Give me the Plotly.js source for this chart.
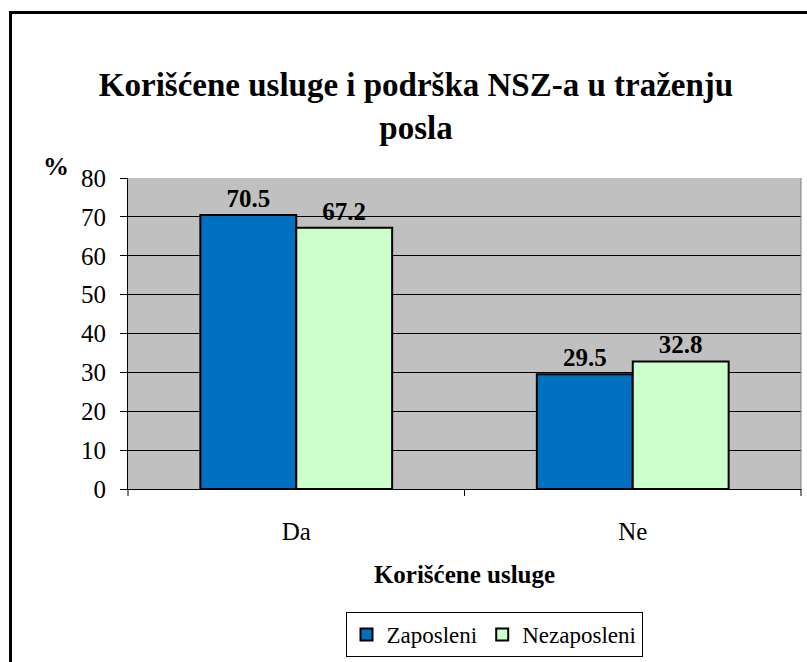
<!DOCTYPE html>
<html>
<head>
<meta charset="utf-8">
<script src="https://cdn.plot.ly/plotly-3.0.1.min.js"></script>
<style>
html,body{margin:0;padding:0;background:#fff;overflow:hidden;}
#wrap{position:relative;width:807px;height:662px;}
#chart{width:807px;height:662px;}
#frame{position:absolute;left:9px;top:11px;width:820px;height:700px;border-left:3px solid #000;border-top:3px solid #000;pointer-events:none;}
</style>
</head>
<body>
<div id="wrap"><div id="chart"></div><div id="frame"></div></div>
<script>
var categories = ["Da", "Ne"];
var zaposleni = [70.5, 29.5];
var nezaposleni = [67.2, 32.8];
var seriesNames = ["Zaposleni", "Nezaposleni"];
var titleText = "Korišćene usluge i podrška NSZ-a u traženju<br>posla";
var xTitle = "Korišćene usluge";
var yTitle = "%";

var font = "Liberation Serif";
var W = 807, H = 662, L = 128, R = 6, T = 178, B = 172;
var pw = W - L - R, ph = H - T - B;
function px(x){ return (x - L) / pw; }
function py(y){ return (H - B - y) / ph; }

var traces = [
  {type:'bar', name:seriesNames[0], x:categories, y:zaposleni,
   marker:{color:'#0070C0', line:{color:'#000', width:2}},
   text:zaposleni.map(function(v){return v.toFixed(1);}), textposition:'outside',
   textfont:{family:font, size:25, color:'#000', weight:'bold'}, cliponaxis:false},
  {type:'bar', name:seriesNames[1], x:categories, y:nezaposleni,
   marker:{color:'#CCFFCC', line:{color:'#000', width:2}},
   text:nezaposleni.map(function(v){return v.toFixed(1);}), textposition:'outside',
   textfont:{family:font, size:25, color:'#000', weight:'bold'}, cliponaxis:false}
];

var layout = {
  width:W, height:H,
  margin:{l:L, r:R, t:T, b:B, pad:0},
  paper_bgcolor:'#fff', plot_bgcolor:'#C0C0C0',
  font:{family:font, color:'#000', size:24},
  barmode:'group', bargap:0.43, bargroupgap:0,
  title:{text:titleText, x:px(416), xref:'paper', xanchor:'center', y:0.855, yanchor:'top',
         font:{family:font, size:33, color:'#000', weight:'bold'}},
  xaxis:{type:'category', showgrid:false, showline:true, linecolor:'#000', linewidth:1,
         ticks:'', tickfont:{family:font, size:25}, ticklabelstandoff:20,
         title:{text:xTitle, font:{family:font, size:25, weight:'bold'}, standoff:21},
         mirror:false},
  yaxis:{range:[0,80], dtick:10, showgrid:true, gridcolor:'#000', gridwidth:1,
         showline:true, linecolor:'#000', linewidth:1, ticks:'outside', ticklen:7,
         tickcolor:'#000', tickfont:{family:font, size:25}, zeroline:false, ticklabelstandoff:9},
  showlegend:true,
  legend:{orientation:'h', x:px(494), xanchor:'center', y:py(612), yanchor:'top',
          bordercolor:'#000', borderwidth:1, bgcolor:'#fff',
          font:{family:font, size:23}, traceorder:'normal', itemwidth:30},
  shapes:[
    {type:'line', xref:'paper', yref:'paper', x0:1, x1:1, y0:0, y1:1, line:{color:'#808080', width:1}},
    {type:'line', xref:'paper', yref:'paper', x0:0, x1:0, y0:0, y1:py(497), line:{color:'#000', width:1}},
    {type:'line', xref:'paper', yref:'paper', x0:0.5, x1:0.5, y0:0, y1:py(497), line:{color:'#000', width:1}},
    {type:'line', xref:'paper', yref:'paper', x0:1, x1:1, y0:0, y1:py(497), line:{color:'#000', width:1}}
  ],
  annotations:[
    {text:yTitle, xref:'paper', yref:'paper', x:px(56), y:py(166), xanchor:'center', yanchor:'middle',
     showarrow:false, font:{family:font, size:26, weight:'bold'}}
  ]
};

Plotly.newPlot('chart', traces, layout, {displayModeBar:false, staticPlot:true});
</script>
</body>
</html>
